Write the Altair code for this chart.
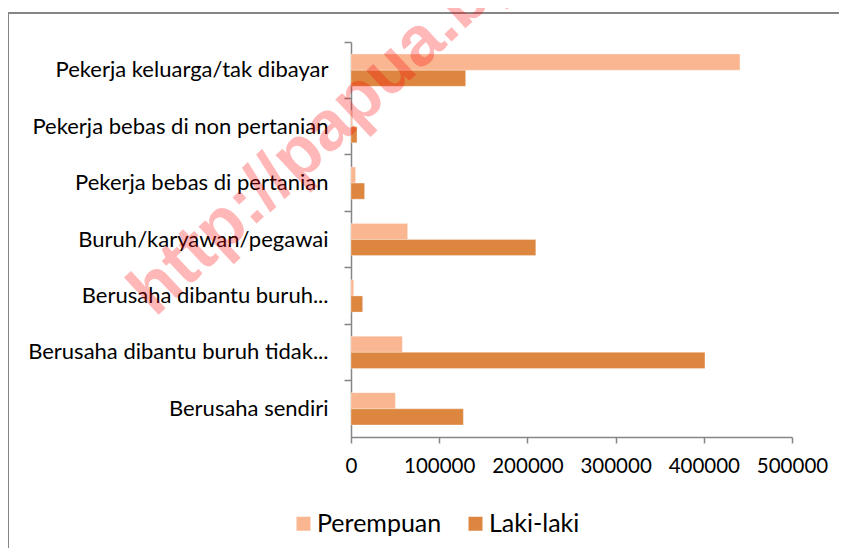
import altair as alt
import pandas as pd

categories = [
    "Pekerja keluarga/tak dibayar",
    "Pekerja bebas di non pertanian",
    "Pekerja bebas di pertanian",
    "Buruh/karyawan/pegawai",
    "Berusaha dibantu buruh...",
    "Berusaha dibantu buruh tidak...",
    "Berusaha sendiri",
]
series = ["Perempuan", "Laki-laki"]
perempuan = [441000, 1500, 5200, 64200, 3000, 58200, 50300]
laki_laki = [130000, 6800, 15400, 209500, 13200, 401300, 127400]
x_ticks = [0, 100000, 200000, 300000, 400000, 500000]
colors = ["#F9B690", "#DD8640"]
watermark = "http://papua.bps.go.id"

rows = []
for c, p, l in zip(categories, perempuan, laki_laki):
    rows.append({"kategori": c, "jenis": "Perempuan", "nilai": p})
    rows.append({"kategori": c, "jenis": "Laki-laki", "nilai": l})
df = pd.DataFrame(rows)

FONT = "Lato"
W, H = 441, 395

bars = alt.Chart(df).mark_bar(stroke="white", strokeWidth=0.6, strokeOpacity=0.5).encode(
    y=alt.Y(
        "kategori:N",
        sort=categories,
        scale=alt.Scale(paddingInner=0, paddingOuter=0),
        title=None,
        axis=alt.Axis(
            bandPosition=0,
            tickSize=7,
            labelPadding=16,
            labelFont=FONT,
            labelFontSize=22,
            labelColor="#000000",
            labelLimit=400,
            domainColor="#868686",
            tickColor="#868686",
            domainWidth=1.5,
            tickWidth=1.5,
        ),
    ),
    yOffset=alt.YOffset(
        "jenis:N",
        sort=series,
        scale=alt.Scale(domain=series, paddingInner=0, paddingOuter=0.75),
    ),
    x=alt.X(
        "nilai:Q",
        scale=alt.Scale(domain=[0, 500000], nice=False),
        title=None,
        axis=alt.Axis(
            values=x_ticks,
            format="d",
            tickSize=6,
            labelPadding=13,
            labelFont=FONT,
            labelFontSize=20.5,
            labelColor="#000000",
            labelFlush=False,
            grid=False,
            domainColor="#868686",
            tickColor="#868686",
            domainWidth=1.5,
            tickWidth=1.5,
        ),
    ),
    color=alt.Color(
        "jenis:N",
        sort=series,
        scale=alt.Scale(domain=series, range=colors),
        legend=alt.Legend(
            title=None,
            orient="none",
            legendX=-60,
            legendY=469,
            direction="horizontal",
            symbolType="square",
            symbolSize=196,
            symbolStrokeWidth=0,
            symbolOpacity=1,
            labelFont=FONT,
            labelFontSize=25,
            labelColor="#000000",
            labelOffset=1,
            columnPadding=21,
        ),
    ),
)

frame_data = alt.Data(values=[{}])
left_edge = alt.Chart(frame_data).mark_rule(color="#868686", strokeWidth=2).encode(
    x=alt.value(-343), y=alt.value(-29), y2=alt.value(520)
)
top_edge = alt.Chart(frame_data).mark_rule(color="#868686", strokeWidth=2).encode(
    x=alt.value(-343), x2=alt.value(489), y=alt.value(-29)
)

wm = alt.Chart(alt.Data(values=[{}])).mark_text(
    font="Liberation Sans",
    fontWeight="bold",
    fontSize=70,
    align="left",
    baseline="alphabetic",
    angle=317,
    color="#FF0000",
    opacity=0.28,
).encode(
    x=alt.value(-196), y=alt.value(276), text=alt.value(watermark)
)

chart = alt.layer(left_edge, top_edge, bars, wm).properties(
    width=W,
    height=H,
    autosize=alt.AutoSizeParams(type="none"),
    padding={"left": 343, "top": 34, "right": 47, "bottom": 111},
).configure_view(stroke=None)

chart.save("out.html", embed_options={"renderer": "svg", "actions": False})
